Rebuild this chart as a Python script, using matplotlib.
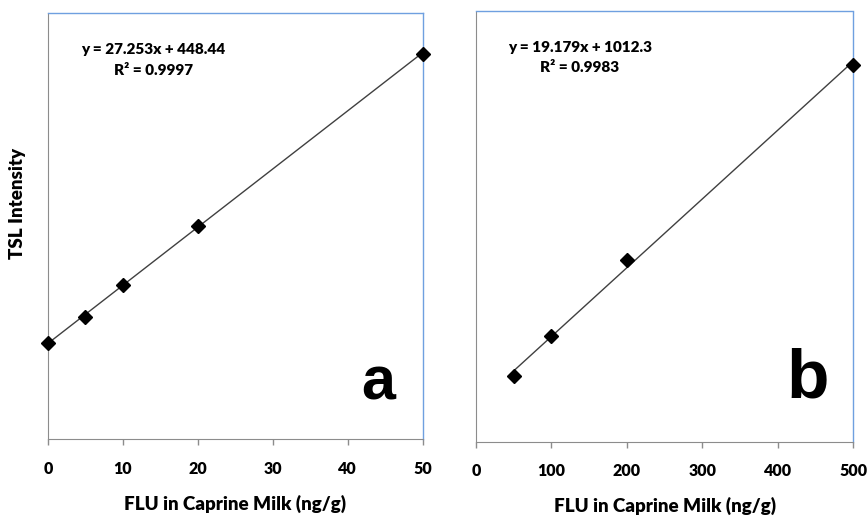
import numpy as np
import matplotlib.pyplot as plt

# calibration data, panel a
conc_a = [0, 5, 10, 20, 50]
tsl_a = [452, 571, 723, 1001, 1807]
slope_a, icpt_a, r2_a = 27.253, 448.44, 0.9997

# calibration data, panel b
conc_b = [50, 100, 200, 500]
tsl_b = [1820, 2945, 5060, 10520]
slope_b, icpt_b, r2_b = 19.179, 1012.3, 0.9983

xticks_a = [0, 10, 20, 30, 40, 50]
xticks_b = [0, 100, 200, 300, 400, 500]

plt.rcParams['font.family'] = ['Lato', 'DejaVu Sans']
W = 'heavy'

fig = plt.figure(figsize=(8.68, 5.16), dpi=100)
ax1 = fig.add_axes([48/868, 1-439/516, (422.5-48)/868, (439-12.5)/516])
ax2 = fig.add_axes([476/868, 1-441.5/516, (853-476)/868, (441.5-11.5)/516])

gray = '#8c8c8c'
blue = '#6fa0e0'


def panel(ax, x, y, slope, icpt, r2, xt, ymax, eq_text, eq_pos, letter, lsize, lpos):
    xs = np.array([x[0], x[-1]])
    ax.plot(xs, slope*xs + icpt, color='#404040', lw=1.0, zorder=2)
    ax.plot(x, y, 'D', color='black', ms=7.5, zorder=3, clip_on=False)
    ax.set_xlim(xt[0], xt[-1])
    ax.set_ylim(0, ymax)
    ax.set_xticks(xt)
    ax.set_yticks([])
    for s in ['left', 'bottom']:
        ax.spines[s].set_color(gray)
    for s in ['top', 'right']:
        ax.spines[s].set_color(blue)
        ax.spines[s].set_linewidth(1.0)
        ax.spines[s].set_snap(True)
    ax.tick_params(axis='x', direction='out', length=4.5, width=1, color=gray,
                   pad=11, labelsize=11.5)
    for t in ax.get_xticklabels():
        t.set_fontweight(W)
    ax.set_xlabel('FLU in Caprine Milk (ng/g)', fontsize=13.5, fontweight=W,
                  labelpad=13)
    ax.text(eq_pos[0], eq_pos[1], eq_text,
            transform=ax.transAxes, fontsize=11, fontweight=W,
            ha='center', va='center')
    ax.text(eq_pos[0], eq_pos[1] - 0.048, 'R² = %.4f' % r2,
            transform=ax.transAxes, fontsize=11, fontweight=W,
            ha='center', va='center')
    ax.text(lpos[0], lpos[1], letter, transform=ax.transAxes,
            fontsize=lsize, fontweight='bold', family='Liberation Sans',
            ha='center', va='center')


panel(ax1, conc_a, tsl_a, slope_a, icpt_a, r2_a, xticks_a, 2000,
      'y = %.3fx + %.2f' % (slope_a, icpt_a), (0.282, 0.913), 'a', 44, (0.882, 0.13))
panel(ax2, conc_b, tsl_b, slope_b, icpt_b, r2_b, xticks_b, 12000,
      'y = %.3fx + %.1f' % (slope_b, icpt_b), (0.276, 0.917), 'b', 50, (0.881, 0.145))

fig.text(18/868, 1-203/516, 'TSL Intensity', rotation=90, fontsize=13.5,
         fontweight=W, ha='center', va='center')

fig.savefig('out.png', dpi=100)
